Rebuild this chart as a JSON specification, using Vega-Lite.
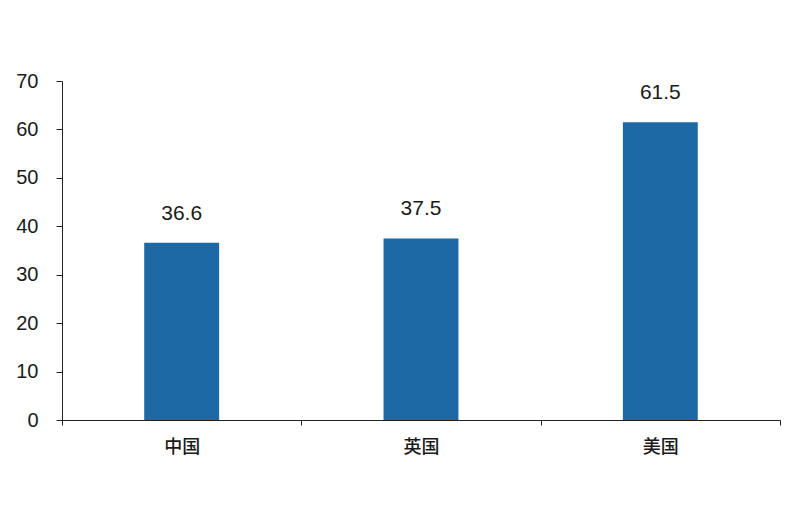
{
  "$schema": "https://vega.github.io/schema/vega-lite/v6.json",
  "width": 718,
  "height": 339,
  "autosize": {"type": "none"},
  "padding": {"left": 62, "top": 81, "right": 20, "bottom": 88},
  "background": "white",
  "config": {"view": {"stroke": null}},
  "data": {"values": [
    {"country": "中国", "value": 36.6},
    {"country": "英国", "value": 37.5},
    {"country": "美国", "value": 61.5}
  ]},
  "encoding": {
    "x": {
      "field": "country", "type": "nominal", "sort": null,
      "scale": {"paddingInner": 0, "paddingOuter": 0},
      "axis": {
        "title": null, "labelAngle": 0, "tickBand": "extent",
        "domainColor": "#222", "tickColor": "#222", "tickSize": 5,
        "labelFont": "Noto Sans CJK SC", "labelFontSize": 18, "labelColor": "#1a1a1a",
        "labelPadding": 13, "labelFontWeight": 500
      }
    },
    "y": {
      "field": "value", "type": "quantitative",
      "scale": {"domain": [0, 70], "nice": false},
      "axis": {
        "title": null, "values": [0, 10, 20, 30, 40, 50, 60, 70], "grid": false,
        "domainColor": "#222", "tickColor": "#222", "tickSize": 6,
        "labelFont": "Arial", "labelFontSize": 20, "labelColor": "#1a1a1a",
        "labelPadding": 18
      }
    }
  },
  "layer": [
    {"mark": {"type": "bar", "width": {"band": 0.313}, "color": "#1d69a6"}},
    {
      "mark": {"type": "text", "baseline": "bottom", "dy": -19, "font": "Arial", "fontSize": 21, "color": "#1a1a1a"},
      "encoding": {"text": {"field": "value", "type": "quantitative", "format": ".1f"}}
    }
  ]
}
